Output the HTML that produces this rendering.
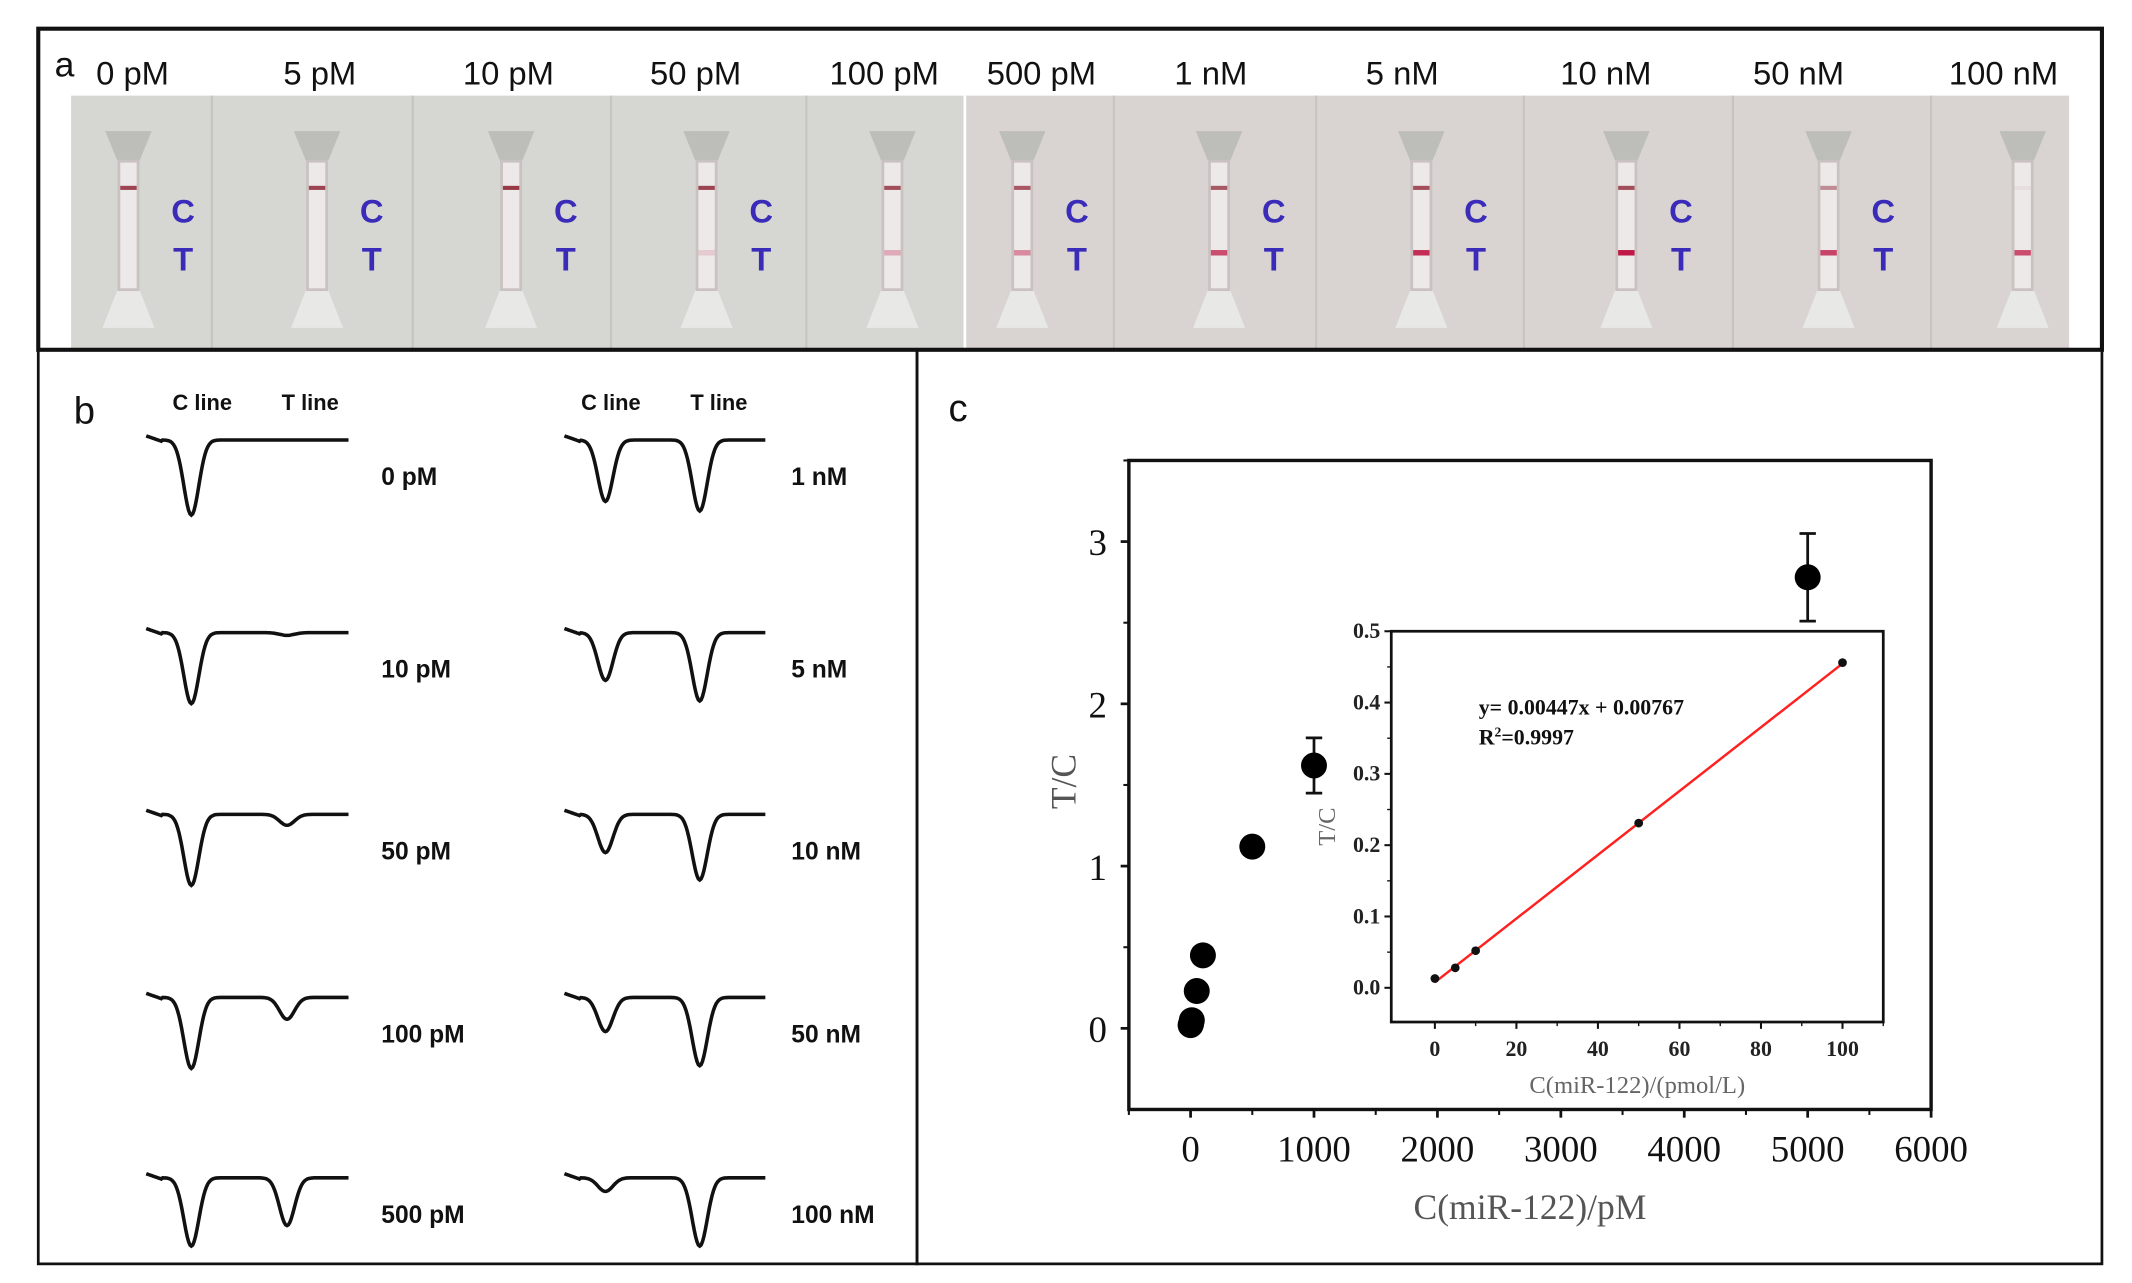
<!DOCTYPE html>
<html><head><meta charset="utf-8"><style>
html,body{margin:0;padding:0;background:#fff;}
svg{display:block;}
.sans{font-family:"Liberation Sans",sans-serif;}
.serif{font-family:"Liberation Serif",serif;}
</style></head><body>
<svg id="fig" width="2132" height="1283" viewBox="0 0 1560 939" preserveAspectRatio="none">
<rect x="0" y="0" width="1560" height="939" fill="#fff"/>
<g id="pa"></g>
<g id="pb"></g>
<g id="pc"></g>
<g fill="none" stroke="#111">
<rect x="28" y="21" width="1510" height="235" stroke-width="3"/>
<rect x="28" y="256" width="643" height="669" stroke-width="2"/>
<rect x="671" y="256" width="867" height="669" stroke-width="2"/>
</g>
</svg>
<script>
// ---------- data ----------
const stripLabels=["0 pM","5 pM","10 pM","50 pM","100 pM","500 pM","1 nM","5 nM","10 nM","50 nM","100 nM"];
const tLineIntensity=[0,0,0,0.15,0.3,0.45,0.75,0.9,1,0.8,0.75];
const cLineIntensity=[0.8,0.8,0.85,0.8,0.75,0.7,0.7,0.75,0.75,0.45,0.05];
const traceLabelsLeft=["0 pM","10 pM","50 pM","100 pM","500 pM"];
const traceLabelsRight=["1 nM","5 nM","10 nM","50 nM","100 nM"];
const cDepthLeft=[55,52,52,52,50];
const tDepthLeft=[0,2,8,16,35];
const cDepthRight=[45,35,28,25,10];
const tDepthRight=[52,50,48,50,50];
const mainX=[0,5,10,50,100,500,1000,5000];
const mainY=[0.02,0.03,0.05,0.23,0.45,1.12,1.62,2.78];
const mainErr=[0,0,0,0,0,0,0.17,0.27];
const mainXTicks=[0,1000,2000,3000,4000,5000,6000];
const mainYTicks=[0,1,2,3];
const insetX=[0,5,10,50,100];
const insetY=[0.013,0.028,0.052,0.231,0.456];
const insetXTicks=[0,20,40,60,80,100];
const insetYTicks=[0.0,0.1,0.2,0.3,0.4,0.5];
const fitSlope=0.00447, fitIntercept=0.00767;

const NS="http://www.w3.org/2000/svg";
function mk(tag,attrs,parent,text){const e=document.createElementNS(NS,tag);for(const k in attrs)e.setAttribute(k,attrs[k]);if(text!==undefined)e.textContent=text;parent.appendChild(e);return e;}

// ---------- panel a ----------
const pa=document.getElementById('pa');
mk('rect',{x:52,y:70,width:654,height:185,fill:'#d6d7d2'},pa);
mk('rect',{x:706,y:70,width:808,height:185,fill:'#d9d4d2'},pa);
mk('line',{x1:706,y1:70,x2:706,y2:255,stroke:'#fff','stroke-width':2},pa);
const lab=mk('text',{x:40,y:56,'font-size':26,class:'sans',fill:'#111'},pa,'a');


const labelX=[97,234,372,509,647,762,886,1026,1175,1316,1466];
const stripX=[94,232,374,517,653,748,892,1040,1190,1338,1480];
const seps=[155,302,447,590,815,963,1115,1268,1413];
seps.forEach(s=>mk('line',{x1:s,y1:70,x2:s,y2:255,stroke:'#c4c4c0','stroke-width':1.5},pa));
stripLabels.forEach((t,i)=>{
  const e=mk('text',{x:labelX[i],y:62,'font-size':24,'text-anchor':'middle',class:'sans',fill:'#111'},pa,t);
  
  
  const x=stripX[i];
  const g=mk('g',{},pa);
  
  
  mk('polygon',{points:`${x-17},96 ${x+17},96 ${x+8},118 ${x-8},118`,fill:'#bdbdba'},g);
  mk('polygon',{points:`${x-8},212 ${x+8},212 ${x+19},240 ${x-19},240`,fill:'#e8e8e6'},g);
  mk('rect',{x:x-8,y:117,width:16,height:96,fill:'#c9c2c0'},g);
  mk('rect',{x:x-6,y:119,width:12,height:92,fill:'#ece9e8'},g);
  const ci=cLineIntensity[i];
  if(ci>0)mk('rect',{x:x-6,y:136,width:12,height:3,fill:'#8a1a2c','fill-opacity':ci},g);
  const ti=tLineIntensity[i];
  if(ti>0)mk('rect',{x:x-6,y:183,width:12,height:4,fill:'#c01846','fill-opacity':ti},g);
  if(i<10&&i!==4){
    mk('text',{x:x+40,y:163,'font-size':24,'font-weight':'bold','text-anchor':'middle',class:'sans',fill:'#3a2cb8'},g,'C');
    mk('text',{x:x+40,y:198,'font-size':24,'font-weight':'bold','text-anchor':'middle',class:'sans',fill:'#3a2cb8'},g,'T');
  }
});

// ---------- panel b ----------
const pb=document.getElementById('pb');
const lb=mk('text',{x:54,y:310,'font-size':28,class:'sans',fill:'#111'},pb,'b');


[[148,227],[447,526]].forEach(p=>{
  mk('text',{x:p[0],y:300,'font-size':16,'font-weight':'bold','text-anchor':'middle',class:'sans',fill:'#111'},pb,'C line');
  mk('text',{x:p[1],y:300,'font-size':16,'font-weight':'bold','text-anchor':'middle',class:'sans',fill:'#111'},pb,'T line');
});
const rowBase=[322,463,596,730,862];
function trace(x0,x1,cx,cd,tx,td,base){
  let d='';
  for(let x=x0;x<=x1;x+=1){
    let y=base;
    y+=cd*Math.exp(-Math.pow((x-cx)/5.5,2)/2);
    y+=td*Math.exp(-Math.pow((x-tx)/5.5,2)/2);
    if(x<x0+12)y+=-3+(x-x0)*0.35;
    d+=(x===x0?'M':'L')+x+','+y.toFixed(1);
  }
  return d;
}
rowBase.forEach((b,i)=>{
  const p1=mk('path',{d:trace(107,255,140,cDepthLeft[i],210,tDepthLeft[i],b),fill:'none',stroke:'#111','stroke-width':2.6},pb);
  
  
  const p2=mk('path',{d:trace(413,560,443,cDepthRight[i],512,tDepthRight[i],b),fill:'none',stroke:'#111','stroke-width':2.6},pb);
  
  
  mk('text',{x:279,y:b+33,'font-size':18,'font-weight':'bold',class:'sans',fill:'#111'},pb,traceLabelsLeft[i]);
  mk('text',{x:579,y:b+33,'font-size':18,'font-weight':'bold',class:'sans',fill:'#111'},pb,traceLabelsRight[i]);
});

// ---------- panel c ----------
const pc=document.getElementById('pc');
const lc=mk('text',{x:694,y:308,'font-size':28,class:'sans',fill:'#111'},pc,'c');


const M={l:826,r:1413,t:337,b:812,x0:-500,x1:6000,y0:-0.5,y1:3.5};
const mx=v=>M.l+(v-M.x0)/(M.x1-M.x0)*(M.r-M.l);
const my=v=>M.b-(v-M.y0)/(M.y1-M.y0)*(M.b-M.t);
const frame=mk('rect',{x:M.l,y:M.t,width:M.r-M.l,height:M.b-M.t,fill:'none',stroke:'#111','stroke-width':2.5},pc);


mainXTicks.forEach(v=>{
  mk('line',{x1:mx(v),y1:M.b,x2:mx(v),y2:M.b+6,stroke:'#111','stroke-width':2},pc);
  mk('line',{x1:mx(v-500),y1:M.b,x2:mx(v-500),y2:M.b+4,stroke:'#111','stroke-width':1.5},pc);
  mk('text',{x:mx(v),y:M.b+38,'font-size':27,'text-anchor':'middle',class:'serif',fill:'#111'},pc,String(v));
});
mainYTicks.forEach(v=>{
  mk('line',{x1:M.l-6,y1:my(v),x2:M.l,y2:my(v),stroke:'#111','stroke-width':2},pc);
  mk('line',{x1:M.l-4,y1:my(v+0.5),x2:M.l,y2:my(v+0.5),stroke:'#111','stroke-width':1.5},pc);
  mk('text',{x:M.l-16,y:my(v)+10,'font-size':27,'text-anchor':'end',class:'serif',fill:'#111'},pc,String(v));
});
const xt=mk('text',{x:(M.l+M.r)/2,y:892,'font-size':26,'text-anchor':'middle',class:'serif',fill:'#555'},pc,'C(miR-122)/pM');


const yt=mk('text',{x:0,y:0,'font-size':26,'text-anchor':'middle',class:'serif',fill:'#555',transform:`translate(787,572) rotate(-90)`},pc,'T/C');


mainX.forEach((x,i)=>{
  const e=mainErr[i]||0;
  if(e>0){
    mk('line',{x1:mx(x),y1:my(mainY[i]-e),x2:mx(x),y2:my(mainY[i]+e),stroke:'#111','stroke-width':2},pc);
    [mainY[i]-e,mainY[i]+e].forEach(v=>mk('line',{x1:mx(x)-6,y1:my(v),x2:mx(x)+6,y2:my(v),stroke:'#111','stroke-width':2},pc));
  }
  const c=mk('circle',{cx:mx(x),cy:my(mainY[i]),r:9.5,fill:'#000'},pc);
  
  
});
// inset
const I={l:1018,r:1378,t:462,b:748,x0:-10.7,x1:110,y0:-0.048,y1:0.5};
const ix=v=>I.l+(v-I.x0)/(I.x1-I.x0)*(I.r-I.l);
const iy=v=>I.b-(v-I.y0)/(I.y1-I.y0)*(I.b-I.t);
const inset=mk('rect',{x:I.l,y:I.t,width:I.r-I.l,height:I.b-I.t,fill:'#fff',stroke:'#111','stroke-width':2},pc);


insetXTicks.forEach(v=>{
  mk('line',{x1:ix(v),y1:I.b,x2:ix(v),y2:I.b+5,stroke:'#111','stroke-width':1.5},pc);
  mk('line',{x1:ix(v+10),y1:I.b,x2:ix(v+10),y2:I.b+3,stroke:'#111','stroke-width':1},pc);
  mk('text',{x:ix(v),y:I.b+25,'font-size':16,'font-weight':'bold','text-anchor':'middle',class:'serif',fill:'#222'},pc,String(v));
});
insetYTicks.forEach(v=>{
  mk('line',{x1:I.l-5,y1:iy(v),x2:I.l,y2:iy(v),stroke:'#111','stroke-width':1.5},pc);
  if(v<0.5)mk('line',{x1:I.l-3,y1:iy(v+0.05),x2:I.l,y2:iy(v+0.05),stroke:'#111','stroke-width':1},pc);
  mk('text',{x:I.l-8,y:iy(v)+5,'font-size':16,'font-weight':'bold','text-anchor':'end',class:'serif',fill:'#222'},pc,v.toFixed(1));
});
mk('text',{x:(I.l+I.r)/2,y:800,'font-size':18,'text-anchor':'middle',class:'serif',fill:'#666'},pc,'C(miR-122)/(pmol/L)');
mk('text',{x:0,y:0,'font-size':18,'text-anchor':'middle',class:'serif',fill:'#666',transform:'translate(977,605) rotate(-90)'},pc,'T/C');
const fit=mk('line',{x1:ix(0),y1:iy(fitIntercept),x2:ix(100),y2:iy(fitIntercept+fitSlope*100),stroke:'#ff2020','stroke-width':1.8},pc);


insetX.forEach((x,i)=>{
  const p=mk('circle',{cx:ix(x),cy:iy(insetY[i]),r:3.2,fill:'#111'},pc);
  
  
});
mk('text',{x:1082,y:523,'font-size':16,'font-weight':'bold',class:'serif',fill:'#111'},pc,'y= 0.00447x + 0.00767');
const r2=mk('text',{x:1082,y:545,'font-size':16,'font-weight':'bold',class:'serif',fill:'#111'},pc,'');
r2.innerHTML='R<tspan dy="-6" font-size="10">2</tspan><tspan dy="6">=0.9997</tspan>';
</script>
</body></html>
